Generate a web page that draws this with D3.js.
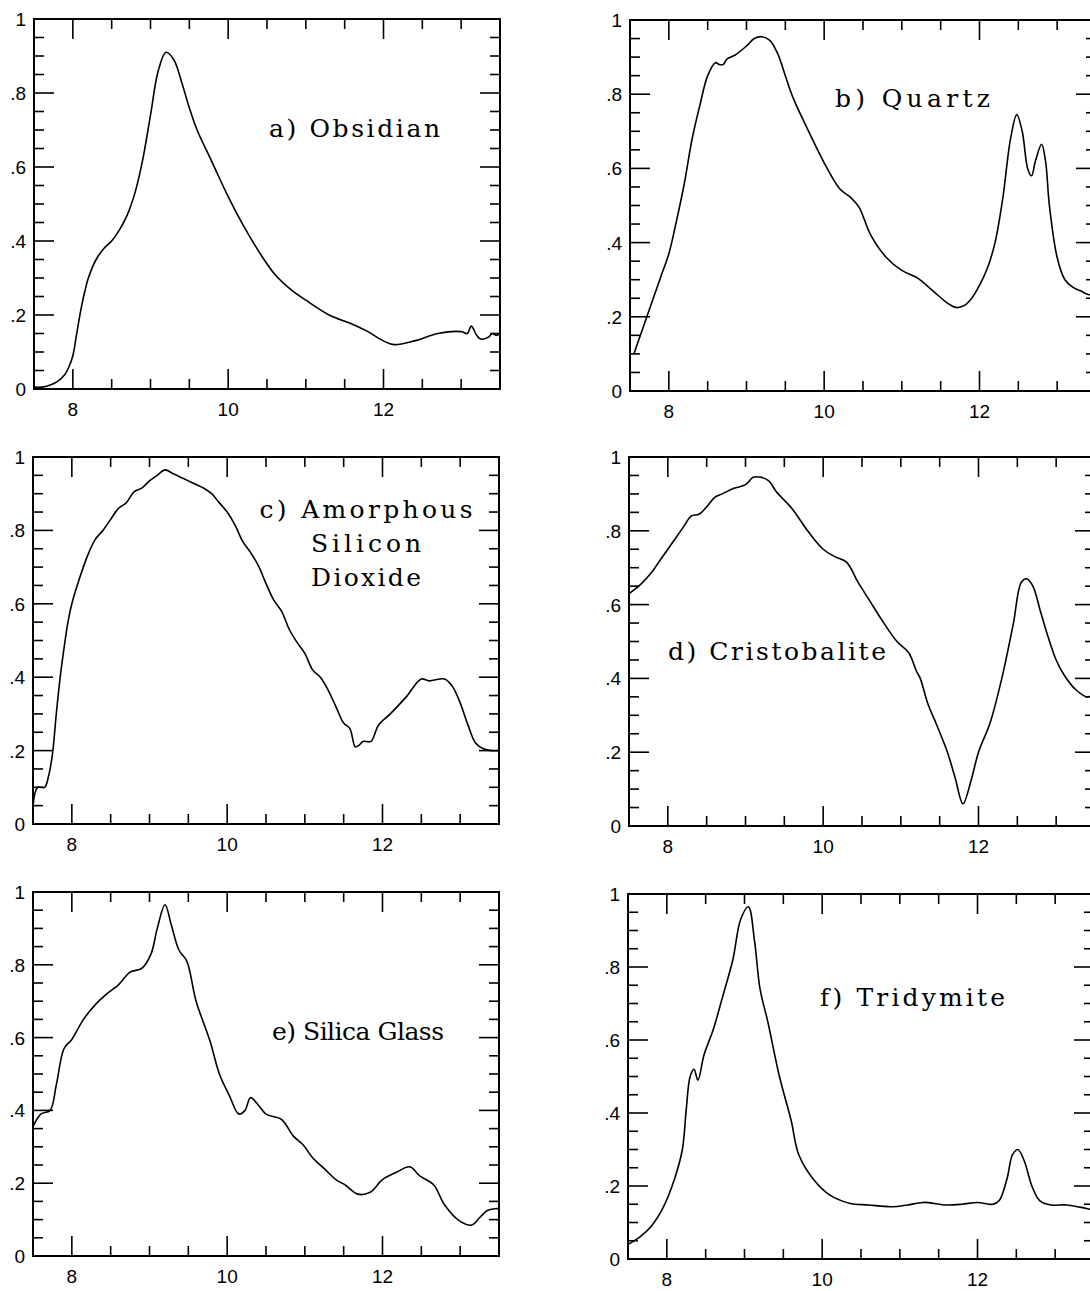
<!DOCTYPE html>
<html>
<head>
<meta charset="utf-8">
<script src="https://cdn.jsdelivr.net/npm/d3@7"></script>
<style>
  body { margin: 0; background: #fff; }
  svg { display: block; }
</style>
</head>
<body>
<svg id="chart"></svg>
<script>
// wavelength (micron) / normalised emissivity
var obsidianX = [7.5, 7.6, 7.7, 7.8, 7.9, 7.95, 8.0, 8.05, 8.1, 8.15, 8.2, 8.3, 8.4, 8.5, 8.6, 8.7, 8.8, 8.9, 9.0, 9.1, 9.2, 9.3, 9.4, 9.5, 9.6, 9.8, 10.0, 10.2, 10.4, 10.6, 10.8, 11.0, 11.3, 11.6, 11.8, 12.0, 12.13, 12.4, 12.7, 13.0, 13.08, 13.13, 13.2, 13.25, 13.35, 13.4, 13.45, 13.5];
var obsidianY = [0.005, 0.005, 0.01, 0.02, 0.04, 0.06, 0.09, 0.15, 0.21, 0.26, 0.30, 0.35, 0.38, 0.40, 0.43, 0.47, 0.53, 0.62, 0.74, 0.86, 0.91, 0.89, 0.83, 0.76, 0.70, 0.61, 0.52, 0.44, 0.37, 0.31, 0.27, 0.24, 0.20, 0.175, 0.155, 0.13, 0.12, 0.13, 0.15, 0.155, 0.15, 0.17, 0.145, 0.135, 0.14, 0.15, 0.145, 0.15];

var quartzX = [7.55, 7.6, 7.7, 7.8, 7.9, 8.0, 8.1, 8.2, 8.3, 8.4, 8.5, 8.6, 8.65, 8.7, 8.75, 8.85, 9.0, 9.1, 9.2, 9.3, 9.4, 9.5, 9.6, 9.8, 10.0, 10.2, 10.35, 10.45, 10.6, 10.8, 11.0, 11.2, 11.4, 11.6, 11.7, 11.8, 11.9, 12.0, 12.1, 12.2, 12.3, 12.4, 12.48, 12.55, 12.62, 12.67, 12.72, 12.8, 12.85, 12.9, 13.0, 13.1, 13.2, 13.3, 13.4, 13.5];
var quartzY = [0.10, 0.13, 0.19, 0.25, 0.31, 0.37, 0.46, 0.56, 0.68, 0.77, 0.85, 0.885, 0.88, 0.88, 0.895, 0.905, 0.93, 0.95, 0.955, 0.945, 0.91, 0.85, 0.79, 0.70, 0.615, 0.545, 0.52, 0.495, 0.42, 0.36, 0.325, 0.305, 0.27, 0.235, 0.225, 0.23, 0.25, 0.285, 0.33, 0.40, 0.52, 0.68, 0.745, 0.70, 0.60, 0.58, 0.62, 0.665, 0.62, 0.50, 0.36, 0.30, 0.28, 0.27, 0.26, 0.26];

var amorphousX = [7.5, 7.56, 7.65, 7.7, 7.75, 7.8, 7.85, 7.9, 7.95, 8.0, 8.1, 8.2, 8.3, 8.4, 8.5, 8.6, 8.7, 8.8, 8.9, 9.0, 9.1, 9.2, 9.3, 9.4, 9.5, 9.6, 9.7, 9.8, 9.9, 10.0, 10.1, 10.2, 10.3, 10.4, 10.5, 10.6, 10.7, 10.8, 10.9, 11.0, 11.1, 11.2, 11.3, 11.4, 11.5, 11.58, 11.65, 11.7, 11.75, 11.85, 11.95, 12.1, 12.3, 12.5, 12.6, 12.8, 12.9, 13.0, 13.1, 13.2, 13.3, 13.4, 13.5];
var amorphousY = [0.05, 0.10, 0.10, 0.13, 0.19, 0.30, 0.40, 0.48, 0.55, 0.60, 0.67, 0.73, 0.775, 0.80, 0.83, 0.86, 0.875, 0.905, 0.915, 0.935, 0.95, 0.965, 0.955, 0.945, 0.935, 0.925, 0.915, 0.90, 0.875, 0.85, 0.815, 0.77, 0.74, 0.705, 0.655, 0.61, 0.58, 0.53, 0.495, 0.465, 0.42, 0.40, 0.365, 0.32, 0.275, 0.26, 0.21, 0.215, 0.225, 0.225, 0.27, 0.30, 0.345, 0.395, 0.39, 0.395, 0.375, 0.33, 0.27, 0.22, 0.205, 0.20, 0.20];

var cristobaliteX = [7.5, 7.65, 7.8, 7.9, 8.0, 8.1, 8.2, 8.3, 8.4, 8.5, 8.6, 8.7, 8.85, 9.0, 9.1, 9.2, 9.3, 9.4, 9.6, 9.8, 10.0, 10.15, 10.3, 10.45, 10.6, 10.75, 10.95, 11.1, 11.2, 11.25, 11.35, 11.45, 11.6, 11.7, 11.8, 11.9, 12.0, 12.15, 12.3, 12.45, 12.55, 12.62, 12.7, 12.8, 12.9, 13.0, 13.1, 13.25, 13.4, 13.5];
var cristobaliteY = [0.63, 0.655, 0.69, 0.72, 0.75, 0.78, 0.81, 0.84, 0.845, 0.865, 0.89, 0.90, 0.915, 0.925, 0.945, 0.945, 0.935, 0.905, 0.86, 0.80, 0.75, 0.73, 0.715, 0.66, 0.61, 0.56, 0.50, 0.47, 0.42, 0.40, 0.33, 0.28, 0.20, 0.13, 0.06, 0.12, 0.20, 0.28, 0.40, 0.55, 0.66, 0.67, 0.65, 0.58, 0.51, 0.45, 0.41, 0.37, 0.35, 0.36];

var silicaX = [7.5, 7.6, 7.72, 7.8, 7.9, 8.0, 8.15, 8.3, 8.45, 8.6, 8.75, 8.9, 9.02, 9.1, 9.2, 9.28, 9.38, 9.48, 9.6, 9.78, 9.9, 10.03, 10.15, 10.23, 10.3, 10.4, 10.5, 10.7, 10.85, 10.98, 11.1, 11.25, 11.4, 11.52, 11.68, 11.84, 12.0, 12.18, 12.35, 12.48, 12.66, 12.8, 13.0, 13.15, 13.25, 13.35, 13.45, 13.5];
var silicaY = [0.355, 0.39, 0.40, 0.47, 0.57, 0.595, 0.65, 0.69, 0.72, 0.745, 0.78, 0.79, 0.83, 0.90, 0.965, 0.91, 0.84, 0.81, 0.70, 0.59, 0.50, 0.44, 0.39, 0.40, 0.435, 0.415, 0.39, 0.375, 0.33, 0.305, 0.27, 0.24, 0.21, 0.195, 0.17, 0.175, 0.21, 0.23, 0.245, 0.22, 0.195, 0.14, 0.095, 0.085, 0.105, 0.125, 0.13, 0.13];

var tridymiteX = [7.5, 7.65, 7.8, 7.95, 8.1, 8.2, 8.25, 8.3, 8.35, 8.4, 8.48, 8.6, 8.72, 8.85, 8.95, 9.05, 9.13, 9.2, 9.3, 9.45, 9.6, 9.7, 9.9, 10.1, 10.35, 10.6, 10.9, 11.1, 11.3, 11.6, 11.8, 12.0, 12.2, 12.28, 12.38, 12.45, 12.52, 12.6, 12.7, 12.8, 12.95, 13.15, 13.5];
var tridymiteY = [0.04, 0.06, 0.09, 0.14, 0.22, 0.30, 0.41, 0.50, 0.52, 0.49, 0.56, 0.63, 0.72, 0.82, 0.93, 0.965, 0.87, 0.74, 0.65, 0.50, 0.38, 0.285, 0.215, 0.175, 0.153, 0.148, 0.143, 0.148, 0.155, 0.148, 0.15, 0.155, 0.15, 0.16, 0.22, 0.285, 0.30, 0.27, 0.20, 0.16, 0.148, 0.148, 0.134];

var xTickLabels = ['8', '10', '12'];
var yTickLabels = ['0', '.2', '.4', '.6', '.8', '1'];

var panelLabels = [
    ['a) Obsidian'],
    ['b) Quartz'],
    ['c) Amorphous', 'Silicon', 'Dioxide'],
    ['d) Cristobalite'],
    ['e) Silica Glass'],
    ['f) Tridymite']
];

var $w = 1090, $h = 1291;
var $svg = d3.select('#chart').attr('width', $w).attr('height', $h);

// frame of each panel and where its label sits (lw = label widths per line)
var $panels = [
    {x: 34, y: 19, w: 466, h: 370, lx: 269, ly: 137, lw: [171], xs: obsidianX, ys: obsidianY},
    {x: 630, y: 20, w: 466, h: 371, lx: 835, ly: 107, lw: [155], xs: quartzX, ys: quartzY},
    {x: 33, y: 457, w: 466, h: 367, lx: 366, ly: 518, lw: [213, 110, 110], mid: true, xs: amorphousX, ys: amorphousY},
    {x: 629, y: 457, w: 466, h: 369, lx: 668, ly: 660, lw: [218], xs: cristobaliteX, ys: cristobaliteY},
    {x: 33, y: 892, w: 466, h: 364, lx: 272, ly: 1040, lw: [172], xs: silicaX, ys: silicaY},
    {x: 628, y: 894, w: 466, h: 365, lx: 820, ly: 1006, lw: [185], xs: tridymiteX, ys: tridymiteY}
];

$panels.forEach((p, i) => makePanel(p, panelLabels[i]));

function makePanel (p, label) {
    var g = $svg.append('g').attr('transform', `translate(${p.x},${p.y})`);
    var x = d3.scaleLinear().domain([7.5, 13.5]).range([0, p.w]);
    var y = d3.scaleLinear().domain([0, 1]).range([p.h, 0]);

    var xMinor = d3.range(8, 13.51, 0.5);
    var yMinor = d3.range(0.05, 0.999, 0.05);
    var isMajorX = v => Math.abs(v % 2) < 1e-6;
    var isMajorY = v => Math.abs((v * 5) - Math.round(v * 5)) < 1e-6;

    // ticks on all four sides, pointing inwards
    var ticks = g.append('g').attr('stroke', '#000').attr('stroke-width', 1.6);
    xMinor.forEach(v => {
        var len = isMajorX(v) ? 20 : 10;
        ticks.append('line').attr('x1', x(v)).attr('x2', x(v)).attr('y1', p.h).attr('y2', p.h - len);
        ticks.append('line').attr('x1', x(v)).attr('x2', x(v)).attr('y1', 0).attr('y2', len);
    });
    yMinor.forEach(v => {
        var len = isMajorY(v) ? 20 : 10;
        ticks.append('line').attr('x1', 0).attr('x2', len).attr('y1', y(v)).attr('y2', y(v));
        ticks.append('line').attr('x1', p.w).attr('x2', p.w - len).attr('y1', y(v)).attr('y2', y(v));
    });

    g.append('rect')
        .attr('width', p.w).attr('height', p.h)
        .attr('fill', 'none').attr('stroke', '#000').attr('stroke-width', 2);

    var font = '"Liberation Sans", Arial, sans-serif';
    g.selectAll('.xl').data(xTickLabels).enter().append('text')
        .attr('x', d => x(+d)).attr('y', p.h + 27)
        .attr('text-anchor', 'middle')
        .attr('font-family', font).attr('font-size', 19)
        .text(d => d);
    g.selectAll('.yl').data(yTickLabels).enter().append('text')
        .attr('x', -8).attr('y', d => y(+d) + 7)
        .attr('text-anchor', 'end')
        .attr('font-family', font).attr('font-size', 19)
        .text(d => d);

    var line = d3.line().x(d => x(d[0])).y(d => y(d[1])).curve(d3.curveCatmullRom);
    g.append('path')
        .attr('d', line(d3.zip(p.xs, p.ys)))
        .attr('fill', 'none').attr('stroke', '#000').attr('stroke-width', 1.6);

    label.forEach((s, k) => {
        $svg.append('text')
            .attr('x', p.mid ? p.lx - p.lw[k] / 2 : p.lx)
            .attr('y', p.ly + k * 34)
            .attr('font-family', '"DejaVu Serif", serif')
            .attr('font-size', 25)
            .attr('textLength', p.lw[k])
            .attr('lengthAdjust', 'spacing')
            .text(s);
    });
}
</script>
</body>
</html>
